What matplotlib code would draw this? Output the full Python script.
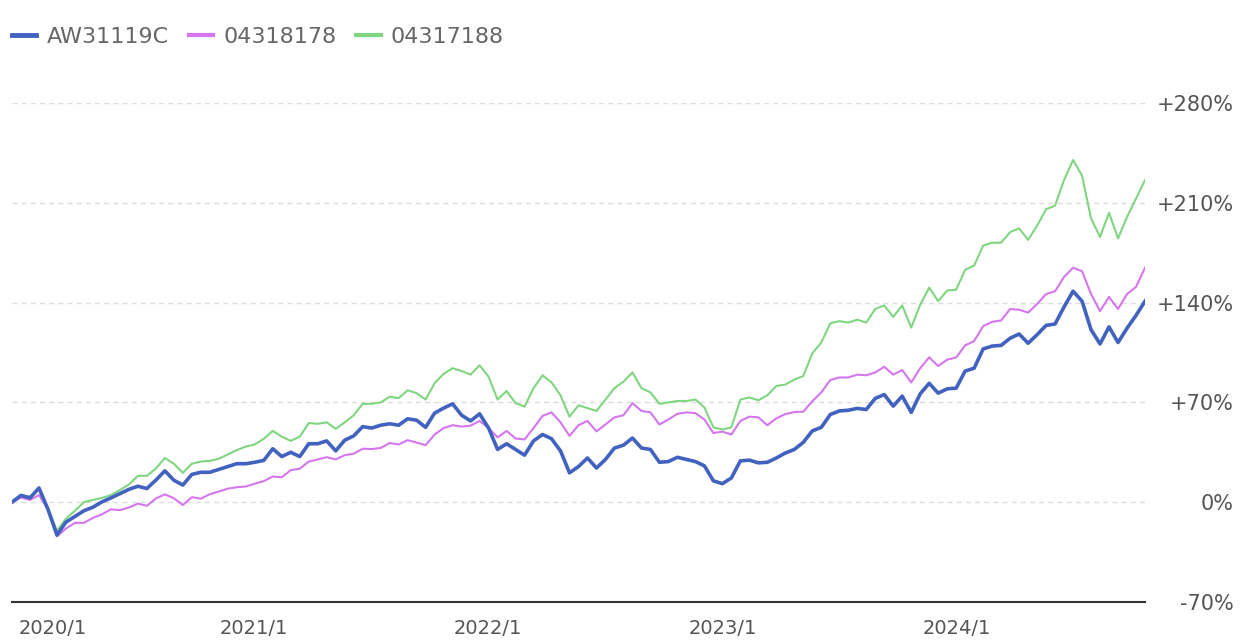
import pandas as pd
import matplotlib.pyplot as plt
from matplotlib.lines import Line2D
from matplotlib.ticker import FuncFormatter

plt.rcParams['font.family'] = ['DejaVu Sans']

# Series names and colours
NAMES = ["AW31119C", "04318178", "04317188"]
COLORS = ["#4262c0", "#d676ef", "#80d680"]

# Cumulative return (%), one value every two weeks from 2019-12-22
blue = [0, 4.8, 3, 10, -5, -23, -14, -10, -6, -3.5,
        0.2, 3, 6, 9, 11.2, 9.6, 15.5, 22, 15.4, 12,
        19.5, 21, 21, 23, 25, 27, 27, 28, 29.3, 37.5,
        32, 35, 32, 41, 41, 43, 36, 43.5, 46.5, 53,
        52, 54, 55, 54, 58.5, 57.5, 52.5, 62.5, 66, 69,
        61, 57, 62, 52, 37, 41, 37, 33, 43, 47.5,
        44.5, 36, 20.6, 25, 31, 24, 30, 38, 40, 45,
        38, 37, 28, 28.5, 31.5, 30, 28.5, 25.5, 15, 13,
        17, 29, 29.5, 27.6, 28, 31, 34.5, 37, 42, 50,
        52.5, 61.5, 64, 64.5, 65.8, 65, 72.8, 75.5, 67.4, 74.4,
        63, 76, 83.4, 76.5, 79.5, 80, 92, 94, 107.5, 109.5,
        110, 115, 118, 111.5, 117.5, 124, 125, 137, 148, 141,
        121, 111, 123, 112, 122, 131, 141]

pink = [0, 3.3, 1.6, 5, -5, -24, -18.5, -14.5, -14.5, -11,
        -8.5, -5, -5.6, -3.7, -1, -2.5, 2.6, 5.5, 2.8, -2,
        3.5, 2.5, 5.6, 7.5, 9.5, 10.5, 11, 13, 14.8, 18,
        17.5, 22.5, 23.5, 28.5, 30, 31.6, 30, 33, 34, 37.5,
        37.3, 38, 41.5, 40.5, 43.5, 41.8, 40, 47.5, 52, 54,
        53, 53.7, 57, 52, 45.5, 50, 44.7, 44, 52, 60.5,
        63, 56, 46.5, 54, 57, 49.7, 54.5, 59.5, 61, 69.5,
        64, 63, 54.5, 58, 62, 63, 62.5, 58, 48.5, 49.5,
        47.5, 57, 60, 59.5, 54, 58.8, 61.8, 63.2, 63.5, 70.8,
        77, 85.7, 87.5, 87.5, 89.5, 89, 91, 95, 89.5, 92.7,
        84, 94, 101.6, 95.5, 100, 101.5, 110, 113, 123.5, 126.5,
        127.5, 135.5, 135, 133, 139, 146, 148, 158, 164.5, 162,
        146, 134, 144, 135.5, 146, 151, 164.5]

green = [0, 4.9, 4, 9, -4.4, -20, -11.5, -6, 0, 1.6,
         3, 5, 8.5, 12.4, 18.5, 18.5, 23.6, 31, 27, 20.6,
         27, 28.5, 29, 30.5, 33.5, 36.5, 39, 40.5, 44.5, 50,
         46, 43, 46, 55.5, 55, 56, 51.5, 56, 61, 69,
         69, 70, 74, 73, 78.5, 76.5, 72, 83.5, 90, 94,
         92, 89.5, 96, 88, 72, 78, 69.5, 67, 80, 89,
         84, 75, 60, 68, 66, 64, 72, 80, 84.5, 91,
         80, 77, 69, 70, 71, 71, 72, 66.5, 52.5, 51,
         52.5, 72, 73.5, 71.5, 75, 81.5, 82.5, 86, 88.5, 104.4,
         112, 125.5, 127, 126, 128, 126, 135.5, 138, 130, 138,
         122.5, 138.5, 150.5, 141, 148.5, 149, 163, 166, 180, 182,
         182, 189.5, 192, 184, 194, 205.5, 208, 226, 240, 229,
         199, 186, 203, 185, 200, 213, 226]

Y_TICKS = [-70, 0, 70, 140, 210, 280]
YEAR_TICKS = ["2020-01-01", "2021-01-01", "2022-01-01", "2023-01-01", "2024-01-01"]

dates = pd.date_range("2019-12-22", periods=len(blue), freq="14D")

fig = plt.figure(figsize=(12.58, 6.42), dpi=100)
ax = fig.add_axes([12 / 1258, 40 / 642, 1133 / 1258, 499 / 642])

# Dashed gridlines, the bottom one is the axis line itself
for v in Y_TICKS[1:]:
    ax.axhline(v, color="#dcdcdc", lw=1, linestyle=(0, (3.6, 3)), zorder=0)

ax.plot(dates, green, color=COLORS[2], lw=1.5, solid_joinstyle="round")
ax.plot(dates, pink, color=COLORS[1], lw=1.5, solid_joinstyle="round")
ax.plot(dates, blue, color=COLORS[0], lw=2.6, solid_joinstyle="round")

ax.set_xlim(dates[0], dates[-1])
ax.set_ylim(-70, 280)

for side in ["top", "left", "right"]:
    ax.spines[side].set_visible(False)
ax.spines["bottom"].set_color("#333333")
ax.spines["bottom"].set_linewidth(1.5)

# Y axis labels on the right
ax.yaxis.tick_right()
ax.set_yticks(Y_TICKS)
ax.yaxis.set_major_formatter(FuncFormatter(lambda v, p: f"+{v:.0f}%" if v > 0 else f"{v:.0f}%"))
ax.tick_params(axis="y", length=0, pad=64, labelsize=15, labelcolor="#555555")
for lab in ax.get_yticklabels():
    lab.set_horizontalalignment("right")

# X axis labels
ticks = pd.to_datetime(YEAR_TICKS)
ax.set_xticks(ticks)
ax.set_xticklabels([f"{d.year}/1" for d in ticks])
ax.tick_params(axis="x", length=0, pad=12, labelsize=14, labelcolor="#555555")
ax.get_xticklabels()[0].set_horizontalalignment("left")

# Legend at the top left
handles = [Line2D([], [], color=COLORS[0], lw=3.5),
           Line2D([], [], color=COLORS[1], lw=3),
           Line2D([], [], color=COLORS[2], lw=3)]
fig.legend(handles, NAMES, loc="upper left", bbox_to_anchor=(12 / 1258, 1 - 27 / 642),
           ncol=3, frameon=False, fontsize=16, handlelength=1.1, handletextpad=0.45,
           columnspacing=0.9, labelcolor="#666666", borderpad=0, borderaxespad=0)

fig.savefig("out.png", dpi=100)
